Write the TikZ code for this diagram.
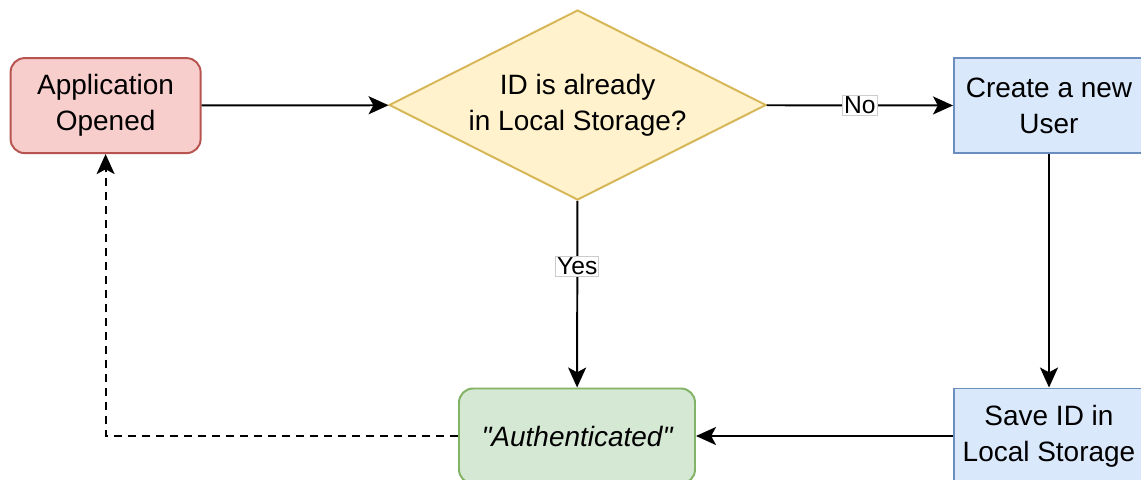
\documentclass[tikz,border=0pt]{standalone}
\usepackage{fontspec}
\setmainfont{Liberation Sans}[Ligatures=TeXOff]
\usetikzlibrary{shapes.geometric,arrows.meta}

\definecolor{redFill}{HTML}{F8CECC}
\definecolor{redLine}{HTML}{B85450}
\definecolor{yellowFill}{HTML}{FFF2CC}
\definecolor{yellowLine}{HTML}{D6B656}
\definecolor{blueFill}{HTML}{DAE8FC}
\definecolor{blueLine}{HTML}{6C8EBF}
\definecolor{greenFill}{HTML}{D5E8D4}
\definecolor{greenLine}{HTML}{82B366}

\tikzset{
	box/.style={draw, line width=1.4pt, align=center, minimum width=4.75cm, minimum height=2.375cm, font=\fontsize{19.9}{25.4}\selectfont},
	decision/.style={diamond, draw, line width=1.4pt, align=center, aspect=2, inner sep=0pt, minimum width=9.425cm, minimum height=4.75cm, font=\fontsize{19.9}{25.4}\selectfont},
	flow/.style={line width=1.4pt, -{Stealth[length=0.5cm, width=0.45cm, inset=0.12cm]}},
	lbl/.style={fill=white, draw=black!20, line width=0.5pt, inner sep=1pt, font=\fontsize{17.5}{20}\selectfont}
}

\begin{document}
\begin{tikzpicture}
				\useasboundingbox (0,0) rectangle (28.525,-11.975);
				
				\node[box, rounded corners=0.35cm, fill=redFill, draw=redLine] (Opened) at (2.64,-2.64) {Application\\Opened};
				\node[decision, fill=yellowFill, draw=yellowLine] (InStorage) at (14.44,-2.625) {ID is already\\in Local Storage?};
				\node[box, fill=blueFill, draw=blueLine] (NewUser) at (26.225,-2.64) {Create a new\\User};
				\node[box, fill=blueFill, draw=blueLine] (SaveId) at (26.225,-10.9) {Save ID in\\Local Storage};
				\node[box, rounded corners=0.35cm, minimum width=5.9cm, fill=greenFill, draw=greenLine] (Auth) at (14.425,-10.9) {\itshape "Authenticated"};
				
				\draw[flow] (Opened) -- (InStorage);
				\draw[flow] (InStorage) -- (NewUser) node[midway, lbl] {No};
				\draw[flow] (InStorage) -- (Auth) node[pos=0.35, lbl] {Yes};
				\draw[flow] (NewUser) -- (SaveId);
				\draw[flow] (SaveId) -- (Auth);
				
				% back to the start once authenticated
				\draw[flow, dash pattern=on 0.2cm off 0.15cm] (Auth.west) -| (Opened.south);
				
			\end{tikzpicture}
\end{document}
